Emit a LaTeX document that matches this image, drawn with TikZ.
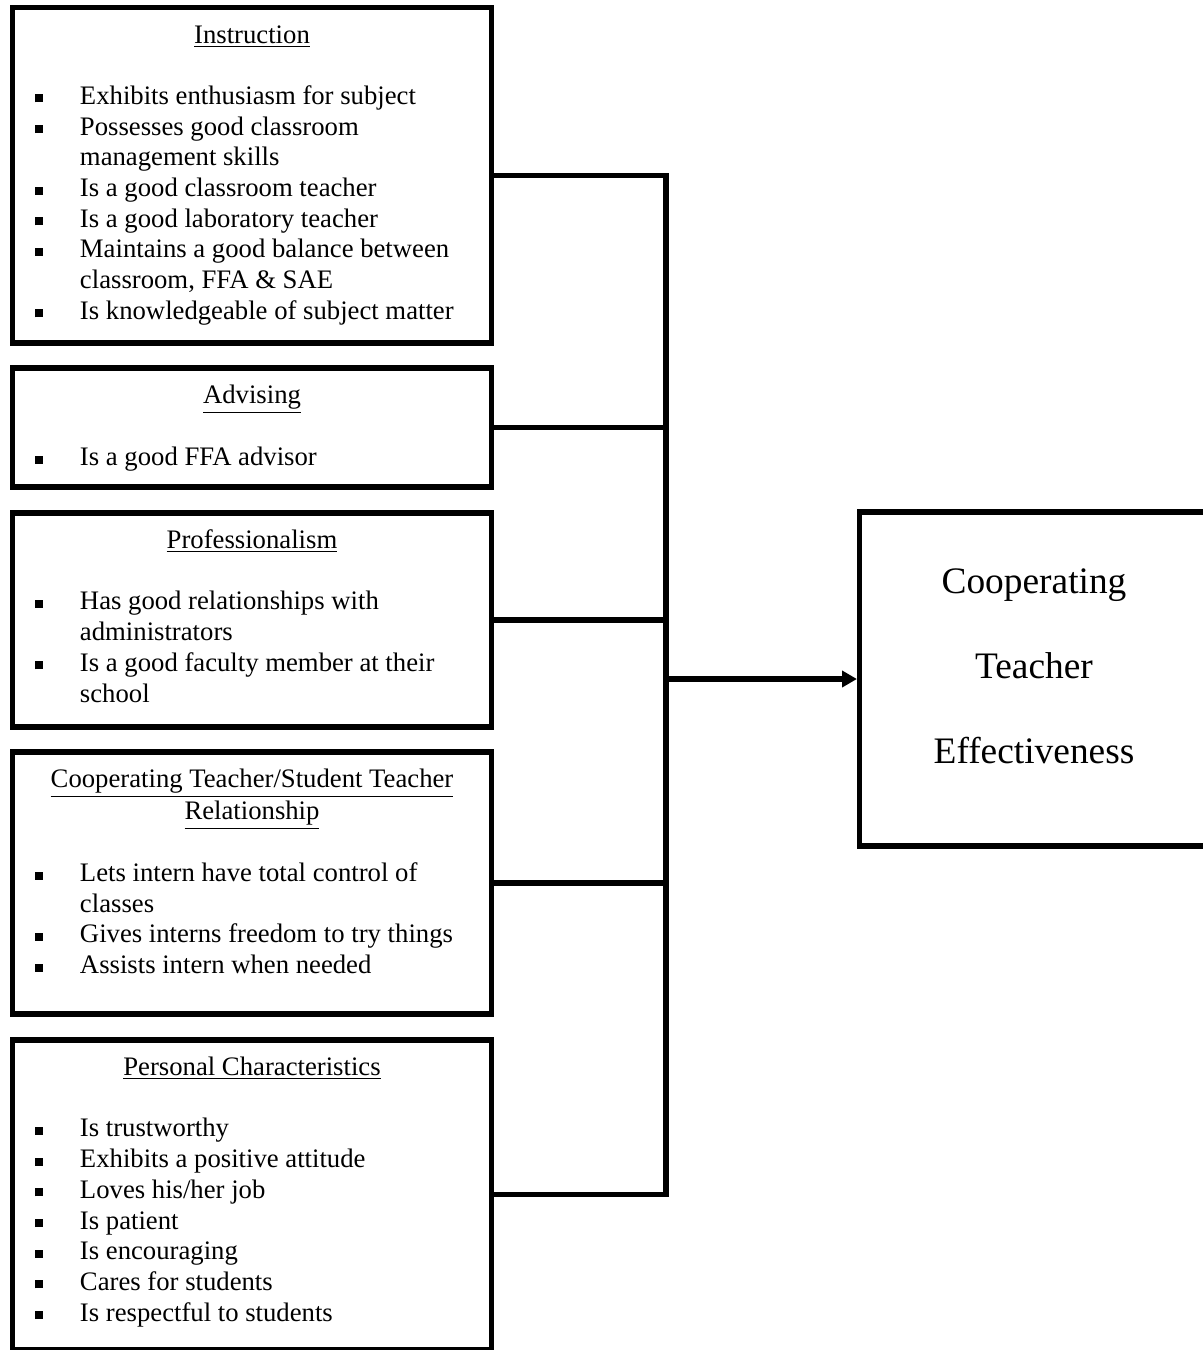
\documentclass[tikz,border=0pt]{standalone}
\usepackage{fontspec}
\setmainfont{Liberation Serif}
\usepackage{array}
\usetikzlibrary{positioning,arrows.meta}

% one pixel of the layout
\newcommand{\pxu}{0.4494pt}
\newcommand{\sqbul}{\rule[0.9pt]{3.6pt}{3.6pt}}
\newcommand{\boxhead}[1]{\multicolumn{2}{c}{\underline{#1}}}
\newenvironment{itemlist}{\begin{tabular}{@{}p{20.2pt}@{}p{174.8pt}@{}}}{\end{tabular}}

\tikzset{
  catbox/.style={draw, line width=2.3pt, inner sep=0pt, minimum width=479*\pxu},
  cattext/.style={inner sep=0pt, outer sep=0pt, font=\fontsize{12}{13.8}\selectfont},
  link/.style={line width=2.3pt},
}

\begin{document}
\begin{tikzpicture}[x=\pxu, y=-\pxu]
    \path[use as bounding box, clip] (0,0) rectangle (1203,1350);

    % Category boxes
    \node[catbox, minimum height=335.5*\pxu] (instr) at (252,175.25) {};
    \node[catbox, minimum height=119*\pxu] (adv) at (252,427.5) {};
    \node[catbox, minimum height=214*\pxu] (prof) at (252,620) {};
    \node[catbox, minimum height=262*\pxu] (rel) at (252,883) {};
    \node[catbox, minimum height=309.5*\pxu] (pers) at (252,1194.75) {};

    % Box contents
    \node[cattext, below=7.45pt of instr.north] (instr-t) {\begin{itemlist}
        \boxhead{Instruction}\\
        & \\
        \sqbul & Exhibits enthusiasm for subject\\
        \sqbul & Possesses good classroom\\
               & management skills\\
        \sqbul & Is a good classroom teacher\\
        \sqbul & Is a good laboratory teacher\\
        \sqbul & Maintains a good balance between\\
               & classroom, FFA \& SAE\\
        \sqbul & Is knowledgeable of subject matter
    \end{itemlist}};
    \node[cattext, below=7.45pt of adv.north] (adv-t) {\begin{itemlist}
        \boxhead{Advising}\\
        & \\
        \sqbul & Is a good FFA advisor
    \end{itemlist}};
    \node[cattext, below=7.45pt of prof.north] (prof-t) {\begin{itemlist}
        \boxhead{Professionalism}\\
        & \\
        \sqbul & Has good relationships with\\
               & administrators\\
        \sqbul & Is a good faculty member at their\\
               & school
    \end{itemlist}};
    \node[cattext, below=7.45pt of rel.north] (rel-t) {\begin{itemlist}
        \boxhead{Cooperating Teacher/Student Teacher}\\
        \boxhead{Relationship}\\
        & \\
        \sqbul & Lets intern have total control of\\
               & classes\\
        \sqbul & Gives interns freedom to try things\\
        \sqbul & Assists intern when needed
    \end{itemlist}};
    \node[cattext, below=7.45pt of pers.north] (pers-t) {\begin{itemlist}
        \boxhead{Personal Characteristics}\\
        & \\
        \sqbul & Is trustworthy\\
        \sqbul & Exhibits a positive attitude\\
        \sqbul & Loves his/her job\\
        \sqbul & Is patient\\
        \sqbul & Is encouraging\\
        \sqbul & Cares for students\\
        \sqbul & Is respectful to students
    \end{itemlist}};

    % Outcome box
    \node[catbox, minimum width=349*\pxu, minimum height=334*\pxu, align=center,
          font=\fontsize{16.8}{38.2}\selectfont] (cte) at (1034,679)
          {Cooperating\\Teacher\\Effectiveness\rule[-11.5pt]{0pt}{11.5pt}};

    % Connectors
    \coordinate (bus) at (666,679);
    \draw[link] (instr.east) -- (instr.east -| bus) -- (pers.east -| bus) -- (pers.east);
    \foreach \b in {adv,prof,rel}
        \draw[link] (\b.east) -- (\b.east -| bus);
    \draw[link, -{Triangle[length=6.7pt, width=7.2pt]}] (bus) -- (cte.west);
\end{tikzpicture}
\end{document}
